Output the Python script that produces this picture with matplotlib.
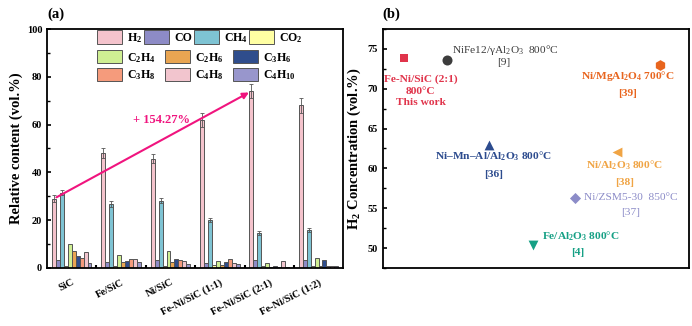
import matplotlib
matplotlib.use("Agg")
import matplotlib.pyplot as plt
import numpy as np
from matplotlib.ticker import MultipleLocator

plt.rcParams['font.family'] = ['Liberation Serif', 'DejaVu Serif']
plt.rcParams['font.weight'] = 'bold'
plt.rcParams['mathtext.fontset'] = 'custom'
plt.rcParams['mathtext.rm'] = 'Liberation Serif'
plt.rcParams['mathtext.bf'] = 'Liberation Serif:bold'
plt.rcParams['mathtext.default'] = 'regular'

# ---------------- data: panel (a) ----------------
catalysts = ['SiC', 'Fe/SiC', 'Ni/SiC', 'Fe-Ni/SiC (1:1)', 'Fe-Ni/SiC (2:1)', 'Fe-Ni/SiC (1:2)']
gases = ['H$_2$', 'CO', 'CH$_4$', 'CO$_2$', 'C$_2$H$_4$', 'C$_2$H$_6$', 'C$_3$H$_6$',
         'C$_3$H$_8$', 'C$_4$H$_8$', 'C$_4$H$_{10}$']
H2    = [29.0, 48.0, 45.8, 62.0, 74.0, 68.0]
CO    = [3.5, 2.4, 3.3, 2.2, 3.3, 3.3]
CH4   = [31.5, 26.8, 28.2, 20.0, 14.7, 16.0]
CO2   = [1.0, 0.8, 0.8, 1.2, 0.8, 1.0]
C2H4  = [10.0, 5.6, 7.3, 3.0, 2.0, 4.2]
C2H6  = [7.0, 2.6, 2.6, 1.3, 0.6, 0.9]
C3H6  = [5.2, 3.0, 3.9, 2.3, 0.7, 3.4]
C3H8  = [4.0, 3.7, 3.5, 3.6, 0.4, 0.7]
C4H8  = [6.7, 3.8, 2.9, 2.1, 2.8, 0.7]
C4H10 = [2.0, 2.6, 1.6, 1.6, 0.5, 0.7]
H2_err  = [1.5, 2.0, 2.0, 2.8, 3.0, 3.2]
CH4_err = [1.0, 1.2, 1.0, 0.8, 0.8, 0.8]
increase_label = '+ 154.27%'

# ---------------- data: panel (b) ----------------
b_names = ['Fe-Ni/SiC (2:1)', 'NiFe12/γAl2O3', 'Ni/MgAl2O4', 'Ni-Mn-Al/Al2O3',
           'Ni/Al2O3', 'Ni/ZSM5-30', 'Fe/Al2O3']
b_x = [0.69, 2.09, 9.05, 3.46, 7.65, 6.27, 4.9]
b_h2 = [73.9, 73.6, 73.0, 62.9, 62.0, 56.25, 50.4]
b_labels = ['Fe-Ni/SiC (2:1)\n800°C\nThis work',
            'NiFe12/γAl$_2$O$_3$  800°C',
            'Ni/MgAl$_2$O$_4$ 700°C',
            'Ni–Mn–Al/Al$_2$O$_3$ 800°C',
            'Ni/Al$_2$O$_3$ 800°C',
            'Ni/ZSM5-30  850°C',
            'Fe/Al$_2$O$_3$ 800°C']
b_refs = ['', '[9]', '[39]', '[36]', '[38]', '[37]', '[4]']

series = [H2, CO, CH4, CO2, C2H4, C2H6, C3H6, C3H8, C4H8, C4H10]
colors = ['#F4C3CC', '#8D8BC6', '#7EC3D3', '#FFFFA3', '#CFEF93', '#E9A552',
          '#2F4D8C', '#F59B7C', '#F2C5CE', '#9896CC']

fig = plt.figure(figsize=(6.92, 3.26), dpi=100)
axa = fig.add_axes([0.068, 0.178, 0.428, 0.733])
axb = fig.add_axes([0.553, 0.178, 0.443, 0.733])

x = np.arange(len(catalysts))
w = 0.08
for i, (vals, c) in enumerate(zip(series, colors)):
    pos = x + (i - 4.5) * w
    err = None
    if i == 0:
        err = H2_err
    elif i == 2:
        err = CH4_err
    axa.bar(pos, vals, w, color=c, edgecolor='#555555', linewidth=0.7,
            label=gases[i], zorder=2,
            yerr=err, error_kw=dict(ecolor='#555555', elinewidth=0.6, capsize=1.5, capthick=0.6))

axa.set_xlim(-0.5, 5.5)
axa.set_ylim(0, 100)
axa.yaxis.set_major_locator(MultipleLocator(20))
axa.yaxis.set_minor_locator(MultipleLocator(10))
axa.set_xticks(x)
axa.set_xticks(x[:-1] + 0.5, minor=True)
axa.set_xticklabels(catalysts, rotation=27, ha='right', rotation_mode='anchor', fontsize=7.5)
axa.tick_params(axis='both', which='both', direction='in', labelsize=7.5)
axa.tick_params(axis='x', which='major', length=0, pad=7)
axa.tick_params(axis='x', which='minor', length=2, width=1.5)
axa.tick_params(axis='y', which='major', length=3, width=1.2)
axa.tick_params(axis='y', which='minor', length=2, width=1.0)
axa.set_ylabel('Relative content (vol.%)', fontsize=10.5, fontweight='bold', labelpad=3)
for s in axa.spines.values():
    s.set_linewidth(1.3)

# arrow annotation
x0 = x[0] - 4.5 * w
x1 = x[4] - 4.5 * w
axa.annotate('', xy=(x1, H2[4]), xytext=(x0, H2[0]),
             arrowprops=dict(arrowstyle='-|>', color='#F0147E', lw=1.5, mutation_scale=9),
             zorder=5)
axa.text(1.81, 61.9, increase_label, color='#F0147E', fontsize=9, fontweight='bold',
         ha='center', va='center')

handles, labs = axa.get_legend_handles_labels()
common = dict(frameon=False, fontsize=8.6, handlelength=2.1, handleheight=1.35,
              handletextpad=0.4, borderaxespad=0.0, borderpad=0.0, loc='upper left')
leg1 = axa.legend(handles[:4], labs[:4], ncol=4, bbox_to_anchor=(0.17, 0.995),
                  columnspacing=0.15, **common)
axa.add_artist(leg1)
order = [4, 7, 5, 8, 6, 9]
axa.legend([handles[k] for k in order], [labs[k] for k in order], ncol=3,
           bbox_to_anchor=(0.17, 0.912), columnspacing=0.8, labelspacing=0.25, **common)

fig.text(0.068, 0.955, '(a)', fontsize=10.5, fontweight='bold', ha='left', va='center')
fig.text(0.553, 0.955, '(b)', fontsize=10.5, fontweight='bold', ha='left', va='center')

# ---------------- panel (b) ----------------
markers = ['s', 'o', 'h', '^', '<', 'D', 'v']
mcolors = ['#E0344B', '#3C3C3C', '#E8651E', '#2C4B8E', '#F0A444', '#8C8CC8', '#16A085']
msizes = [38, 52, 60, 50, 50, 32, 50]
for xi, yi, m, c, s in zip(b_x, b_h2, markers, mcolors, msizes):
    axb.scatter(xi, yi, marker=m, color=c, s=s, zorder=3, linewidths=0)

lab_pos = [(1.24, 69.75, 'center', 'bold'), (2.25, 74.9, 'left', 'normal'),
           (8.0, 71.6, 'center', 'bold'), (3.63, 61.5, 'center', 'bold'),
           (7.88, 60.4, 'center', 'bold'), (6.57, 56.4, 'left', 'normal'),
           (5.2, 51.5, 'left', 'bold')]
ref_pos = [None, (3.95, 73.3), (8.0, 69.4), (3.63, 59.25), (7.88, 58.25), (8.1, 54.5), (6.37, 49.5)]
for k in range(len(b_labels)):
    lx, ly, ha, fw = lab_pos[k]
    axb.text(lx, ly, b_labels[k], color=mcolors[k], fontsize=8.2, fontweight=fw,
             ha=ha, va='center', linespacing=1.4)
    if ref_pos[k] is not None:
        axb.text(ref_pos[k][0], ref_pos[k][1], b_refs[k], color=mcolors[k], fontsize=8.2,
                 fontweight=fw, ha='center', va='center')

axb.set_xlim(0, 10)
axb.set_ylim(47.5, 77.5)
axb.set_xticks([])
axb.yaxis.set_major_locator(MultipleLocator(5))
axb.yaxis.set_minor_locator(MultipleLocator(2.5))
axb.tick_params(axis='y', which='both', direction='in', labelsize=7.5)
axb.tick_params(axis='y', which='major', length=3, width=1.2)
axb.tick_params(axis='y', which='minor', length=2, width=1.0)
axb.set_ylabel('H$_2$ Concentration (vol.%)', fontsize=10.5, fontweight='bold', labelpad=3)
for s in axb.spines.values():
    s.set_linewidth(1.3)

fig.savefig('out.png', dpi=100)
